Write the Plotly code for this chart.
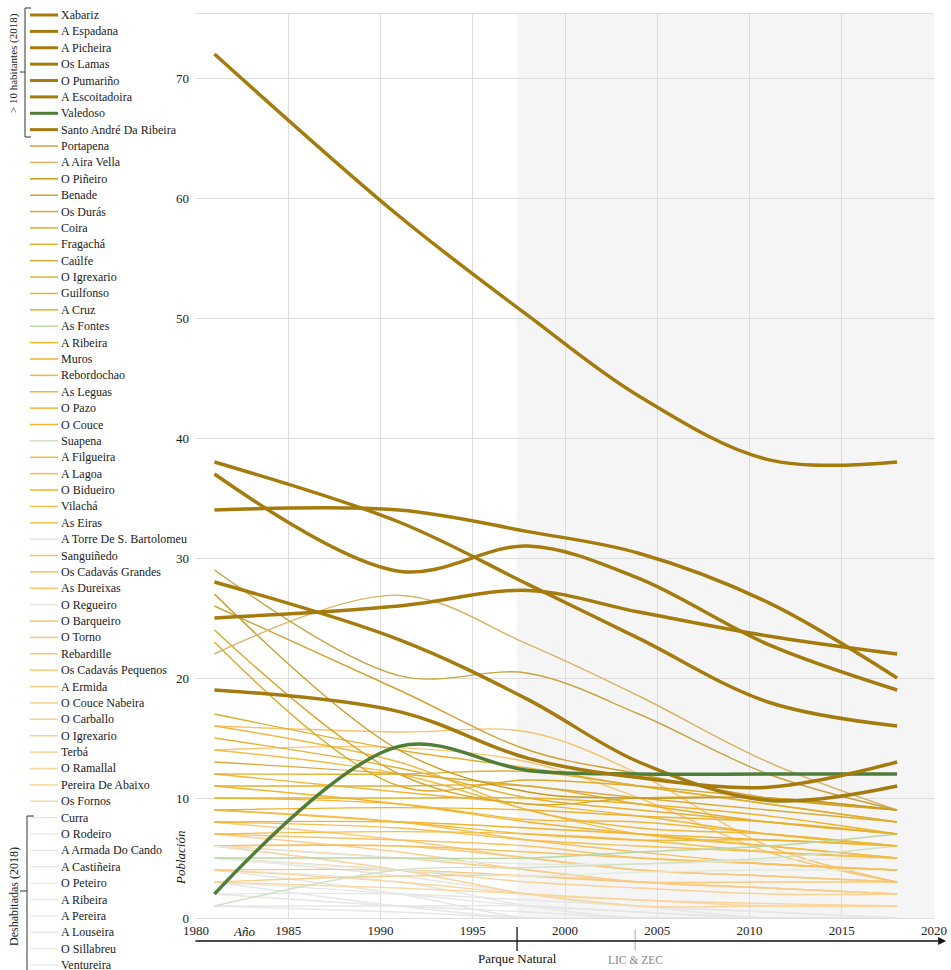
import plotly.graph_objects as go

# figure fills the whole 951x970 window (body margin removed in post_script)
OFF = 0
FW, FH = 951, 970

YEARS = [1981, 1991, 1998, 2004, 2011, 2018]

# > 10 habitantes (2018) — thick lines
THICK_NAMES = ["Xabariz", "A Espadana", "A Picheira", "Os Lamas", "O Pumariño",
               "A Escoitadoira", "Valedoso", "Santo André Da Ribeira"]
THICK_VALUES = [
    [72, 58.5, 50.2, 43.5, 38.2, 38],
    [25, 26.0, 27.3, 25.5, 23.5, 22],
    [34, 34.0, 32.2, 30.4, 26.3, 20],
    [37, 28.9, 31.0, 28.3, 22.8, 19],
    [38, 33.0, 27.8, 23.3, 18.0, 16],
    [19, 17.2, 13.3, 11.7, 10.9, 13],
    [2, 14.3, 12.3, 12.0, 12.0, 12],
    [28, 23.2, 18.2, 13.0, 9.8, 11],
]
THICK_COLORS = ["#a47b0c"] * 6 + ["#4f7e38"] + ["#a47b0c"]

# Remaining inhabited places — thin lines
THIN_NAMES = ["Portapena", "A Aira Vella", "O Piñeiro", "Benade", "Os Durás", "Coira",
              "Fragachá", "Caúlfe", "O Igrexario", "Guilfonso", "A Cruz", "As Fontes",
              "A Ribeira", "Muros", "Rebordochao", "As Leguas", "O Pazo", "O Couce",
              "Suapena", "A Filgueira", "A Lagoa", "O Bidueiro", "Vilachá", "As Eiras",
              "A Torre De S. Bartolomeu", "Sanguiñedo", "Os Cadavás Grandes", "As Dureixas",
              "O Regueiro", "O Barqueiro", "O Torno", "Rebardille", "Os Cadavás Pequenos",
              "A Ermida", "O Couce Nabeira", "O Carballo", "O Igrexario", "Terbá",
              "O Ramallal", "Pereira De Abaixo", "Os Fornos"]
THIN_VALUES = [
    [29, 20.2, 20.4, 17.0, 12.0, 9],
    [22, 26.9, 22.8, 18.5, 13.0, 9],
    [27, 14.0, 10.5, 10.0, 10.0, 9],
    [26, 19.0, 14.0, 12.0, 10.0, 9],
    [24, 12.0, 9.5, 10.0, 10.0, 9],
    [23, 11.0, 11.5, 11.0, 10.0, 9],
    [17, 14.0, 12.5, 11.0, 9.5, 8],
    [13, 12.0, 11.0, 10.0, 9.0, 8],
    [12, 12.0, 12.2, 11.0, 9.5, 8],
    [15, 12.5, 10.0, 9.0, 8.0, 7],
    [11, 11.0, 11.0, 9.5, 8.0, 7],
    [5, 5.0, 5.0, 5.5, 6.0, 7],
    [10, 10.0, 10.0, 9.5, 8.5, 7],
    [9, 9.2, 9.0, 8.5, 8.0, 7],
    [16, 13.0, 9.0, 7.5, 7.0, 6],
    [12, 10.5, 9.5, 8.5, 7.0, 6],
    [10, 9.5, 8.2, 8.0, 7.0, 6],
    [8, 8.0, 7.5, 7.0, 6.5, 6],
    [1, 4.0, 4.2, 4.5, 5.0, 6],
    [9, 8.0, 7.0, 6.5, 6.5, 6],
    [14, 12.0, 9.0, 7.0, 6.0, 5],
    [11, 9.5, 8.0, 7.0, 6.0, 5],
    [7, 7.2, 7.0, 6.5, 5.5, 5],
    [8, 7.5, 6.5, 6.0, 5.5, 5],
    [6, 5.0, 4.5, 4.5, 4.8, 5],
    [9, 8.0, 6.5, 5.5, 4.5, 4],
    [6, 6.0, 5.5, 5.0, 4.5, 4],
    [7, 6.5, 6.0, 5.0, 4.5, 4],
    [5, 4.0, 3.5, 3.8, 4.0, 4],
    [16, 15.5, 15.5, 12.0, 6.0, 3],
    [14, 14.2, 13.0, 10.0, 5.5, 3],
    [6, 6.0, 5.0, 4.0, 3.5, 3],
    [4, 4.0, 3.5, 3.0, 3.0, 3],
    [8, 6.5, 5.0, 4.0, 3.5, 3],
    [6, 5.0, 4.0, 3.0, 2.5, 2],
    [3, 3.5, 3.5, 3.0, 2.5, 2],
    [7, 5.5, 4.0, 3.0, 2.5, 2],
    [5, 4.0, 3.0, 2.5, 2.0, 2],
    [4, 3.0, 2.0, 1.5, 1.2, 1],
    [6, 4.0, 2.0, 1.0, 1.0, 1],
    [3, 2.5, 2.0, 1.5, 1.0, 1],
]
THIN_COLORS = ["#c9a445", "#d6b464", "#c99a1a", "#d0a232", "#d6a82e", "#dbac2e",
               "#dfb030", "#d9ab3e", "#e2b230", "#e4b232", "#e6b02e", "#b8d8a4",
               "#edb428", "#edb230", "#efb83c", "#f0b736", "#f1b834", "#f0b530",
               "#cfe1c6", "#f3bb3c", "#f3bd42", "#f0b52c", "#f4bf4a", "#f5c152",
               "#e5e8e0", "#f6c05a", "#f6c262", "#f7c468", "#e2ebde", "#f7c46e",
               "#f8c676", "#f8c87a", "#f8ca7e", "#f8cb84", "#f9cd88", "#f9ce8c",
               "#f9d090", "#fad294", "#fad498", "#fad69c", "#fbd8a2"]

# Deshabitadas (2018)
EMPTY_NAMES = ["Curra", "O Rodeiro", "A Armada Do Cando", "A Castiñeira", "O Peteiro",
               "A Ribeira", "A Pereira", "A Louseira", "O Sillabreu", "Ventureira"]
EMPTY_VALUES = [
    [6, 4.0, 2.0, 1.0, 0.5, 0],
    [5, 3.5, 2.0, 1.0, 0.0, 0],
    [4, 3.0, 1.0, 0.0, 0.0, 0],
    [3, 2.0, 1.0, 0.5, 0.0, 0],
    [3, 1.0, 0.0, 0.0, 0.0, 0],
    [2, 2.0, 1.5, 1.0, 0.5, 0],
    [2, 1.0, 0.5, 0.0, 0.0, 0],
    [1, 1.0, 1.0, 0.5, 0.0, 0],
    [1, 0.5, 0.0, 0.0, 0.0, 0],
    [4, 2.0, 0.0, 0.0, 0.0, 0],
]
EMPTY_COLORS = ["#e6e6e6"] * 10

X_TICKS = [1980, 1985, 1990, 1995, 2000, 2005, 2010, 2015, 2020]
Y_TICKS = [0, 10, 20, 30, 40, 50, 60, 70]
PARQUE_YEAR = 1997.4
LIC_YEAR = 2003.8

SERIF = "Liberation Serif, Times New Roman, serif"

names = THICK_NAMES + THIN_NAMES + EMPTY_NAMES
values = THICK_VALUES + THIN_VALUES + EMPTY_VALUES
colors = THICK_COLORS + THIN_COLORS + EMPTY_COLORS
widths = [3.5] * len(THICK_NAMES) + [1.4] * len(THIN_NAMES) + [1.4] * len(EMPTY_NAMES)
leg_widths = [3] * len(THICK_NAMES) + [1.5] * len(THIN_NAMES) + [1.2] * len(EMPTY_NAMES)

fig = go.Figure()
for i in reversed(range(len(names))):
    fig.add_trace(go.Scatter(
        x=YEARS, y=values[i], mode="lines", name=names[i],
        line=dict(color=colors[i], width=widths[i], shape="spline", smoothing=1.0),
        hoverinfo="skip", showlegend=False))

# screen pixel -> paper fraction
def px(x):
    return (x - OFF) / FW

def py(y):
    return 1 - (y - OFF) / FH

shapes = []
annotations = []

def note(x, y, text, size=12, color="#1a1a1a", xanchor="center", xref="paper", angle=0):
    annotations.append(dict(xref=xref, yref="paper", x=x, y=py(y), text=text,
                            showarrow=False, xanchor=xanchor, yanchor="middle",
                            textangle=angle,
                            font=dict(family=SERIF, size=size, color=color)))

# shaded protected period
shapes.append(dict(type="rect", xref="x", yref="y domain", x0=PARQUE_YEAR, x1=2020,
                   y0=0, y1=1, fillcolor="#f5f5f5", line=dict(width=0), layer="below"))

# manual legend
y0, dy = 15, 16.38
for i, n in enumerate(names):
    yy = y0 + i * dy
    shapes.append(dict(type="line", xref="paper", yref="paper",
                       x0=px(30), x1=px(58), y0=py(yy), y1=py(yy),
                       line=dict(color=colors[i], width=leg_widths[i])))
    note(px(59), yy, n, size=12, xanchor="left")

def seg(x0, y0_, x1, y1_, color="#333", w=1):
    shapes.append(dict(type="line", xref="paper", yref="paper", x0=px(x0), x1=px(x1),
                       y0=py(y0_), y1=py(y1_), line=dict(color=color, width=w)))

# bracket > 10 habitantes
seg(25, 8, 31, 8); seg(25, 8, 25, 137); seg(25, 137, 31, 137); seg(20, 72, 25, 72)
note(px(14), 63, "&gt; 10 habitantes (2018)", size=11, angle=-90)
# bracket Deshabitadas
seg(27, 816, 34, 816); seg(27, 816, 27, 972); seg(20, 891, 27, 891)
note(px(14), 897, "Deshabitadas (2018)", size=12, angle=-90)

# bottom time arrow
annotations.append(dict(xref="paper", yref="paper", x=px(946), y=py(941), ax=-752, ay=0,
                        axref="pixel", ayref="pixel", text="", showarrow=True,
                        arrowhead=2, arrowsize=1.2, arrowwidth=1.3, arrowcolor="#111"))
shapes.append(dict(type="line", xref="x", yref="paper", x0=PARQUE_YEAR, x1=PARQUE_YEAR,
                   y0=py(927), y1=py(951), line=dict(color="#111", width=1.3)))
shapes.append(dict(type="line", xref="x", yref="paper", x0=LIC_YEAR, x1=LIC_YEAR,
                   y0=py(929), y1=py(951), line=dict(color="#aaa", width=1)))
note(PARQUE_YEAR, 958, "Parque Natural", size=13, color="#111", xref="x")
note(LIC_YEAR, 960, "LIC &amp; ZEC", size=11.5, color="#888", xref="x")
note(px(244), 931, "<i>Año</i>", size=13, color="#111")
note(px(180), 858, "<i>Población</i>", size=13, color="#111", angle=-90)

fig.update_layout(
    width=FW, height=FH, autosize=False,
    margin=dict(l=0, r=0, t=0, b=0, pad=0, autoexpand=False),
    paper_bgcolor="white", plot_bgcolor="white",
    shapes=shapes, annotations=annotations,
    xaxis=dict(domain=[px(196), px(934)], range=[1980, 2020], tickvals=X_TICKS,
               showgrid=True, gridcolor="#dcdcdc", gridwidth=1, zeroline=False,
               showline=True, linecolor="#dcdcdc", mirror=True, ticks="",
               automargin=False, ticklabeloverflow="allow",
               tickfont=dict(family=SERIF, size=13, color="#222")),
    yaxis=dict(domain=[py(918), py(14)], range=[0, (918 - 14) / 12], tickvals=Y_TICKS,
               showgrid=True, gridcolor="#dcdcdc", gridwidth=1, zeroline=False,
               showline=False, ticks="", ticklabelstandoff=6, automargin=False,
               tickfont=dict(family=SERIF, size=13, color="#222")),
)

POST = ("document.documentElement.style.margin='0';document.body.style.margin='0';"
        "document.body.style.overflow='hidden';document.documentElement.style.overflow='hidden';")
fig.write_html("out.html", post_script=POST, config={"displayModeBar": False})
